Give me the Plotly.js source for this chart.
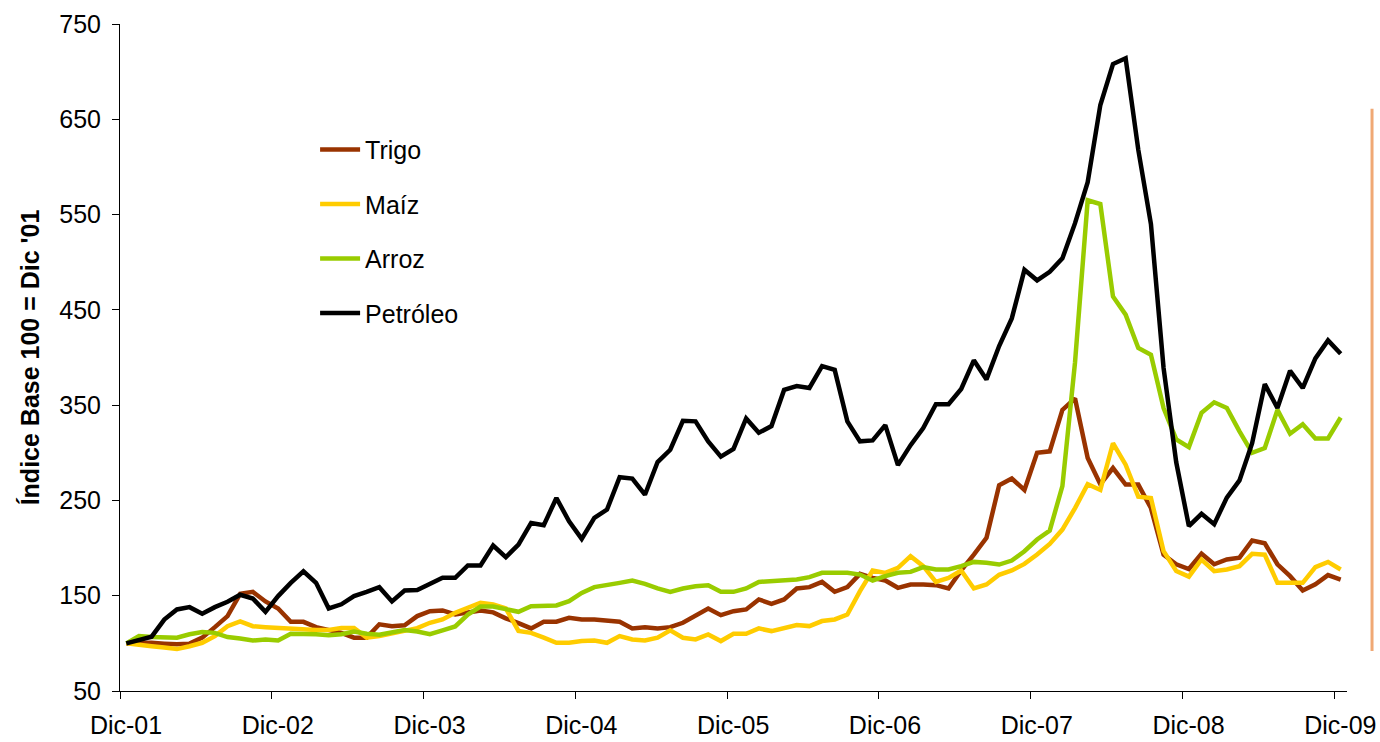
<!DOCTYPE html>
<html>
<head>
<meta charset="utf-8">
<script src="https://cdn.plot.ly/plotly-3.0.1.min.js"></script>
<style>
  html, body { margin: 0; padding: 0; background: #ffffff; }
  #chart { width: 1380px; height: 742px; }
</style>
</head>
<body>
<div id="chart"></div>
<script>
// Monthly series, Dic-01 .. Dic-09 (97 months), index base 100 = Dic '01
const monthNames = ["Dic", "Ene", "Feb", "Mar", "Abr", "May", "Jun", "Jul", "Ago", "Sep", "Oct", "Nov"];
const yearTickText = ["Dic-01", "Dic-02", "Dic-03", "Dic-04", "Dic-05", "Dic-06", "Dic-07", "Dic-08", "Dic-09"];

const trigo = [
  100, 100.6, 100.6, 99.7, 99, 99.7, 106, 117, 128.6, 152, 154, 144,
  136.6, 122.6, 122.6, 117, 114.6, 111, 106, 106, 120, 118, 119, 128.6,
  133.8, 134.5, 130.3, 132.5, 134.5, 132.5, 126.2, 121.3, 115.7, 122.7, 122.7, 126.8,
  125, 125, 123.4, 122.7, 115.7, 117, 115.7, 117, 121.6, 129.6, 136.5, 129.6,
  133.8, 135.6, 146.1, 141.5, 146.1, 157.6, 159, 164.5, 154.1, 159, 172.9, 168.7,
  166, 158.3, 161.8, 161.8, 161.1, 157.6, 176.5, 193.2, 210.7, 266, 273, 261,
  300, 301.5, 345, 357, 294.5, 267, 284, 266.6, 266.6, 242, 193, 183,
  178, 194, 183, 188, 190, 208, 205, 183, 170.5, 155.5, 162, 171.6,
  167
];
const maiz = [
  100, 99, 97, 95.7, 94, 97, 100.6, 107.6, 118, 123, 118, 117,
  116, 115, 115, 114, 114, 116, 116, 106, 107.6, 110, 112.5, 116,
  121.6, 125.1, 132, 137.3, 142.6, 140.8, 136.6, 113, 111, 106, 100.6, 100.6,
  102.4, 103, 100.6, 107.6, 104.1, 103, 105.9, 113.6, 105.9, 104.1, 109.4, 102.4,
  110.1, 110.1, 115.7, 112.9, 115.7, 119.2, 118.1, 123.4, 125.1, 130.3, 154.8, 176.5,
  174, 179.2, 191.5, 181, 164.5, 168.7, 176.5, 157.6, 161.8, 172, 176.5, 183.4,
  193.2, 204.4, 219.4, 242, 267, 261, 310, 287.5, 254, 252.6, 196.7, 176,
  170, 188, 175.7, 177.5, 181, 194, 193, 163.5, 163.5, 163.5, 180, 185.5,
  177.5
];
const arroz = [
  100, 107.6, 106.6, 106, 106, 109.6, 112, 111, 106.6, 105, 103, 104,
  103, 110, 110, 109.6, 108.6, 109.6, 112.5, 110, 109, 111, 114, 112.5,
  109.7, 113.6, 117.8, 130.3, 138.7, 138.7, 135.9, 133.1, 139, 139.8, 139.8, 144.3,
  153, 159, 161.8, 163.5, 166, 162.5, 157.6, 154, 157.6, 160, 161, 154.1,
  154.1, 157.6, 164.5, 165.3, 166, 167, 169.5, 174, 174, 174, 172.2, 166,
  170.5, 174, 175, 180, 177.5, 177.5, 181, 185.5, 184.5, 182.7, 186.9, 196.7,
  209, 218.4, 265, 395, 565, 561, 464, 445, 410, 403, 347, 314,
  306, 342, 353, 347, 322.5, 300, 305, 345, 320, 330, 315, 315,
  337
];
const petroleo = [
  100, 104, 107, 125, 135.6, 138, 131, 138, 143.6, 151, 147, 133,
  149.6, 163.5, 175.7, 163.5, 136.6, 141, 149.6, 154, 159, 144, 155.5, 156,
  161.8, 168.8, 168.8, 181.7, 181.7, 202.6, 190.4, 203.7, 226.4, 224, 252.6, 228,
  209.6, 231.6, 240.4, 274.3, 272.9, 256, 290.3, 303.2, 333.6, 333, 312, 296,
  304, 336, 321, 328, 366, 370, 368, 391, 387, 333, 312, 313,
  329, 287, 308, 326, 351, 351, 367, 397, 377, 412, 441, 492,
  481, 490, 504, 541, 584, 665, 708, 714, 618, 540, 389, 290,
  223, 236, 225, 253, 271, 310, 372, 347, 386, 368, 399, 418,
  404
];

const seriesNames = ["Trigo", "Maíz", "Arroz", "Petróleo"];
const seriesColors = ["#993300", "#FFCC00", "#99CC00", "#000000"];
const seriesData = [trigo, maiz, arroz, petroleo];

// month labels and positions (category index)
const months = [];
for (let i = 0; i < trigo.length; i++) {
  const m = i % 12;
  const yr = 1 + Math.floor((i + 11) / 12);
  months.push(monthNames[m] + "-" + String(yr).padStart(2, "0"));
}
const xIdx = months.map((_, i) => i);
const tickPos = yearTickText.map((_, k) => k * 12 - 0.5);

const FONT = "Liberation Sans, Arial, Helvetica, sans-serif";

const traces = seriesData.map((ys, s) => ({
  type: "scatter",
  mode: "lines",
  name: seriesNames[s],
  x: xIdx,
  y: ys,
  text: months,
  hovertemplate: "%{text}: %{y}<extra>" + seriesNames[s] + "</extra>",
  line: { color: seriesColors[s], width: 4.5 },
  legendgroup: "g" + s
}));

const layout = {
  width: 1380,
  height: 742,
  margin: { l: 120, r: 33, t: 24, b: 51 },
  paper_bgcolor: "#ffffff",
  plot_bgcolor: "#ffffff",
  font: { family: FONT, size: 25, color: "#000000" },
  showlegend: true,
  legend: {
    x: 0.159, y: 0.846, xanchor: "left", yanchor: "top",
    bgcolor: "rgba(0,0,0,0)",
    font: { family: FONT, size: 25, color: "#000000" },
    tracegroupgap: 19,
    itemwidth: 40
  },
  xaxis: {
    range: [-0.5, 96.5],
    tickmode: "array",
    tickvals: tickPos,
    ticktext: yearTickText,
    ticklabelshift: 6,
    ticklabelstandoff: 5,
    ticks: "outside",
    ticklen: 7,
    tickcolor: "#000000",
    tickwidth: 1,
    showline: true,
    linecolor: "#000000",
    linewidth: 1,
    showgrid: false,
    zeroline: false,
    tickfont: { family: FONT, size: 25, color: "#000000" }
  },
  yaxis: {
    range: [50, 750],
    tickmode: "linear",
    tick0: 50,
    dtick: 100,
    ticks: "outside",
    ticklen: 7,
    tickcolor: "#000000",
    tickwidth: 1,
    showline: true,
    linecolor: "#000000",
    linewidth: 1,
    showgrid: false,
    zeroline: false,
    ticklabelstandoff: 6,
    tickfont: { family: FONT, size: 25, color: "#000000" },
    title: {
      text: "<b>Índice Base 100 = Dic '01</b>",
      font: { family: FONT, size: 25, color: "#000000" },
      standoff: 12
    }
  },
  shapes: [
    {
      type: "line", xref: "paper", yref: "paper",
      x0: 1.0204, x1: 1.0204, y0: 0.06, y1: 0.873,
      line: { color: "#F0A874", width: 3 }
    }
  ]
};

Plotly.newPlot("chart", traces, layout, { displayModeBar: false, staticPlot: false });
</script>
</body>
</html>
